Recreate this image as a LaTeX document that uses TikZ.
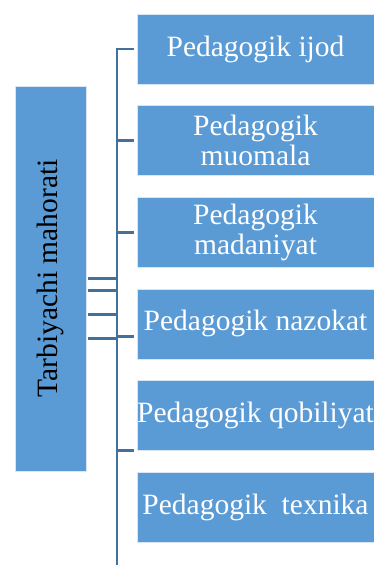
\documentclass[tikz,border=0pt]{standalone}
\usepackage{fontspec}
\setmainfont{Liberation Serif}
\usepackage{tikz}
\usetikzlibrary{positioning}
\definecolor{boxblue}{RGB}{91,155,213}
\definecolor{lineblue}{RGB}{65,113,156}

\begin{document}
\begin{tikzpicture}[x=1pt, y=-1pt, node distance=91.6pt, line width=2.8pt, lineblue]
            \tikzstyle{item}=[rectangle, fill=boxblue, draw=white!75!boxblue, line width=0.6pt, text=white, minimum width=237pt, minimum height=70pt, inner sep=0pt, align=center, font=\fontsize{29.5}{30}\selectfont]
            \useasboundingbox (0,0) rectangle (374,565);

            \node[item, text=black, minimum width=71pt, minimum height=385pt] (mahorat) at (50.5,278.5) {\rotatebox{90}{Tarbiyachi mahorati}};

            \node[item] (ijod)      at (255.5,49)   {Pedagogik ijod};
            \node[item] (muomala)   [below of=ijod]      {Pedagogik\\muomala};
            \node[item] (madaniyat) [below of=muomala]   {Pedagogik\\madaniyat};
            \node[item] (nazokat)   [below of=madaniyat] {Pedagogik nazokat};
            \node[item] (qobiliyat) [below of=nazokat]   {Pedagogik qobiliyat};
            \node[item] (texnika)   [below of=qobiliyat] {Pedagogik\ \ texnika};

            \coordinate (trunk) at (117,565);

            \draw[shorten >=3pt] (trunk) |- (ijod.west);
            \draw[shorten >=3pt] (muomala.west -| trunk) -- (muomala.west);
            \draw[shorten >=3pt] (madaniyat.west -| trunk) -- (madaniyat.west);
            \draw[shorten >=3pt] ([yshift=-13pt]nazokat.west -| trunk) -- ([yshift=-13pt]nazokat.west);
            \draw[shorten >=3pt] (qobiliyat.south west -| trunk) -- (qobiliyat.south west);

            \foreach \s in {0,12,36,60}
                \draw ([xshift=2pt,yshift=-\s pt]mahorat.east) -- ([yshift=-\s pt]mahorat.east -| trunk);
        \end{tikzpicture}
\end{document}
